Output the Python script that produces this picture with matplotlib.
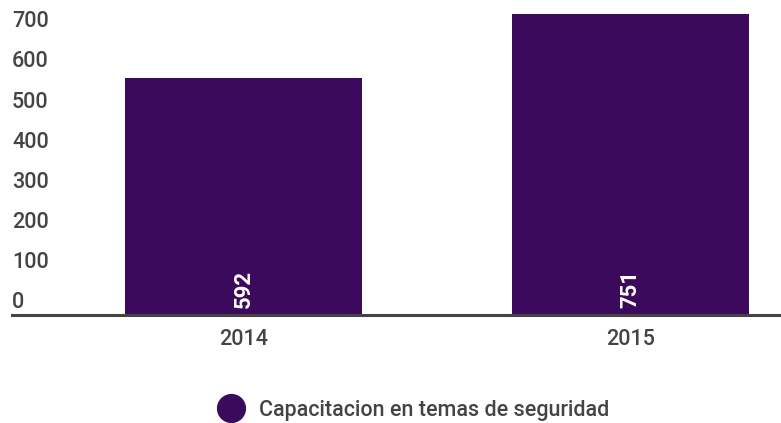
import matplotlib.pyplot as plt
from matplotlib.lines import Line2D
from matplotlib.transforms import blended_transform_factory

years = ["2014", "2015"]
values = [592, 751]
series_name = "Capacitacion en temas de seguridad"
yticks = [0, 100, 200, 300, 400, 500, 600, 700]

bar_color = "#3c0a5c"
text_color = "#444444"

plt.rcParams["font.family"] = ["Roboto", "DejaVu Sans"]

fig = plt.figure(figsize=(7.81, 4.23), dpi=100)
ax = fig.add_axes([12 / 781, 1 - 315 / 423, 1 - 12 / 781, 315 / 423])

x = range(len(years))
ax.bar(x, values, width=0.613, color=bar_color)
ax.set_xlim(-0.599, 1.39)
ax.set_ylim(0, 786)

for xi, v in zip(x, values):
    ax.annotate(str(v), (xi, 0), xytext=(0, 5), textcoords="offset points",
                rotation=90, ha="center", va="bottom", color="white",
                fontsize=16, fontweight="bold")

# y labels sit above their value, Google Charts style
trans = blended_transform_factory(ax.transAxes, ax.transData)
for t in yticks:
    ax.annotate(str(t), (0, t), xycoords=trans, xytext=(0, 1.5),
                textcoords="offset points", ha="left", va="bottom",
                color=text_color, fontsize=15.5, fontweight="medium")
ax.set_yticks([])

ax.set_xticks(list(x))
ax.set_xticklabels(years, fontsize=15.5, color=text_color, fontweight="medium")
ax.tick_params(axis="x", length=0, pad=10)

for side in ["top", "right", "left"]:
    ax.spines[side].set_visible(False)
ax.spines["bottom"].set_color(text_color)
ax.spines["bottom"].set_linewidth(2.2)

handle = Line2D([], [], marker="o", linestyle="none", markersize=20,
                color=bar_color)
fig.legend([handle], [series_name], loc="center",
           bbox_to_anchor=(0.524, 1 - 410 / 423), frameon=False,
           prop={"size": 15.5, "weight": "medium"}, labelcolor=text_color,
           handletextpad=0.3)

fig.savefig("out.png", dpi=100)
